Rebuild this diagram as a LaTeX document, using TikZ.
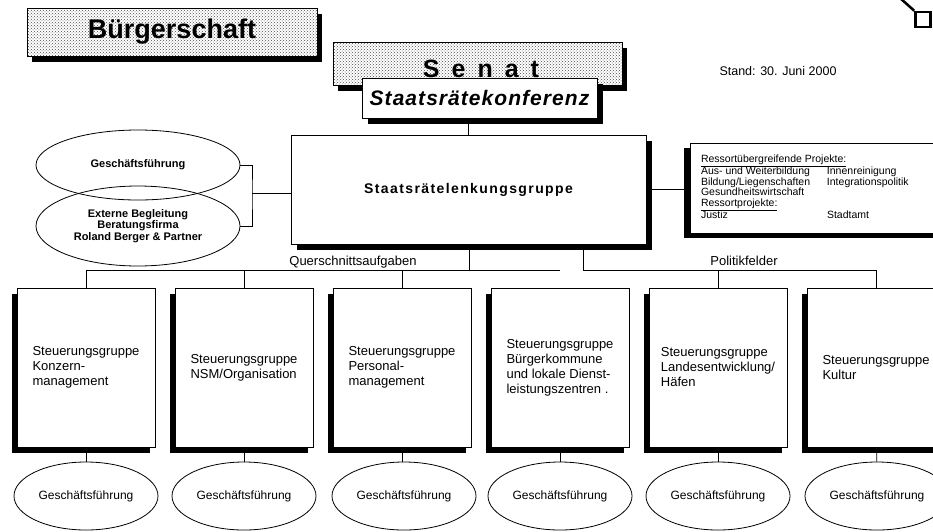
\documentclass[tikz,border=0pt]{standalone}
\usepackage{fontspec}
\setmainfont{Liberation Sans}
\usetikzlibrary{shapes.geometric,shadows,patterns}

\begin{document}
\begin{tikzpicture}[x=1pt,y=-1pt,line width=0.8pt,
    titlebox/.style ={draw, inner sep=0pt,
      drop shadow={shadow xshift=5pt, shadow yshift=-6pt, fill=black, opacity=1},
      preaction={fill=white}, pattern=crosshatch dots, pattern color=black!70},
    mainbox/.style ={draw, fill=white, inner sep=0pt,
      drop shadow={shadow xshift=6pt, shadow yshift=-6pt, fill=black, opacity=1}},
    projectbox/.style ={draw, fill=white, inner sep=0pt,
      drop shadow={shadow xshift=-6pt, shadow yshift=-5pt, fill=black, opacity=1}},
    groupbox/.style ={draw, fill=white, minimum width=138pt, minimum height=159pt, align=left,
      drop shadow={shadow xshift=-5pt, shadow yshift=-6pt, fill=black, opacity=1},
      font=\fontsize{13}{15}\selectfont},
    office/.style ={ellipse, draw, minimum width=144pt, minimum height=68pt, inner sep=0pt,
      font=\fontsize{12}{14}\selectfont},
    adviser/.style ={ellipse, draw, minimum width=204pt, inner sep=0pt, align=center,
      font=\fontsize{11}{11.5}\selectfont\bfseries},
    caption/.style ={inner sep=0pt, font=\fontsize{13}{15}\selectfont}]
   \useasboundingbox (0,0) rectangle (933,531);

   % top: parliament and senate
   \node[titlebox, minimum width=290pt, minimum height=48pt,
     font=\fontsize{27}{30}\selectfont\bfseries] (buergerschaft) at (172,32) {Bürgerschaft};
   \node[titlebox, minimum width=289pt, minimum height=43pt] (senat) at (477.5,63.5) {};
   \node[inner sep=0pt, font={\fontsize{25}{27}\selectfont\bfseries\addfontfeature{LetterSpace=48}}]
     (senatlabel) at (481,69) {Senat};
   \node[mainbox, minimum width=235pt, minimum height=40pt,
     font={\fontsize{21}{24}\selectfont\bfseries\itshape\addfontfeature{LetterSpace=5}}]
     (konferenz) at (479.5,98) {Staatsrätekonferenz};
   \node[caption, font=\fontsize{12.5}{14}\selectfont] (stand) at (778,71) {Stand: 30. Juni 2000};
   \node[draw, line width=2.5pt, minimum size=15pt, inner sep=0pt] (ecke) at (923,19.5) {};
   \draw[line width=2.5pt] (900,-2) -- (ecke.north west);

   % steering group
   \node[mainbox, minimum width=355pt, minimum height=109pt,
     font={\fontsize{14}{16}\selectfont\bfseries\addfontfeature{LetterSpace=10}}]
     (lenkung) at (468.5,189.5) {Staatsrätelenkungsgruppe};
   \draw (konferenz.south -| lenkung.north) -- (lenkung.north);

   \node[adviser, minimum height=80pt] (begleitung) at (138,226)
     {Externe Begleitung\\Beratungsfirma\\Roland Berger \& Partner};
   \node[adviser, minimum height=70pt] (geschaeft) at (138,165) {Geschäftsführung};
   \coordinate (stab) at (252,193);
   \draw (geschaeft.east) -| (stab) |- (begleitung.east);
   \draw (stab) -- (stab -| lenkung.west);

   \node[projectbox, minimum width=250pt, minimum height=90pt] (projekte) at (815,188) {};
   \node[anchor=west, inner sep=0pt, font=\fontsize{10.5}{10}\selectfont]
     (projektliste) at ([xshift=11pt]projekte.west) {%
     \begin{tabular}{@{}p{126pt}@{}l@{}}
       \multicolumn{2}{@{}l@{}}{\underline{Ressortübergreifende Projekte:}}\\
       Aus- und Weiterbildung & Innenreinigung\\
       Bildung/Liegenschaften & Integrationspolitik\\
       Gesundheitswirtschaft & \\
       \multicolumn{2}{@{}l@{}}{\underline{Ressortprojekte:}}\\
       Justiz & Stadtamt
     \end{tabular}};
   \draw (lenkung.east) -- (lenkung.east -| projekte.west);

   % steering groups below
   \node[groupbox] (konzern) at (86,367.5) {Steuerungsgruppe\\Konzern-\\management};
   \node[groupbox] (nsm) at (244,367.5) {Steuerungsgruppe\\NSM/Organisation};
   \node[groupbox] (personal) at (402,367.5) {Steuerungsgruppe\\Personal-\\management};
   \node[groupbox] (buergerkommune) at (560,367.5)
     {Steuerungsgruppe\\Bürgerkommune\\und lokale Dienst-\\leistungszentren .};
   \node[groupbox] (landesentwicklung) at (718,367.5)
     {Steuerungsgruppe\\Landesentwicklung/\\Häfen};
   \node[groupbox] (kultur) at (876,367.5) {Steuerungsgruppe\\Kultur};

   \coordinate (quer) at (469,270);
   \coordinate (politik) at (583,270);
   \node[caption] (querlabel) at (353,262) {Querschnittsaufgaben};
   \node[caption] (politiklabel) at (744,261) {Politikfelder};
   \draw (quer |- lenkung.south) -- (quer);
   \draw (konzern.north |- quer) -- (buergerkommune.north |- quer);
   \draw (konzern.north |- quer) -- (konzern.north);
   \draw (nsm.north |- quer) -- (nsm.north);
   \draw (personal.north |- quer) -- (personal.north);
   \draw (politik |- lenkung.south) -- (politik) -- (kultur.north |- politik) -- (kultur.north);
   \draw (landesentwicklung.north |- politik) -- (landesentwicklung.north);

   \node[office] (konzerngf) at (86,496) {Geschäftsführung};
   \node[office] (nsmgf) at (244,496) {Geschäftsführung};
   \node[office] (personalgf) at (404,496) {Geschäftsführung};
   \node[office] (buergerkommunegf) at (560,496) {Geschäftsführung};
   \node[office] (landesentwicklunggf) at (718,496) {Geschäftsführung};
   \node[office] (kulturgf) at (877,496) {Geschäftsführung};
   \draw (konzern) -- (konzerngf);
   \draw (nsm) -- (nsmgf);
   \draw (personal.south) -- (personal.south |- personalgf.north);
   \draw (buergerkommune) -- (buergerkommunegf);
   \draw (landesentwicklung) -- (landesentwicklunggf);
   \draw (kultur) -- (kulturgf);
 \end{tikzpicture}
\end{document}
